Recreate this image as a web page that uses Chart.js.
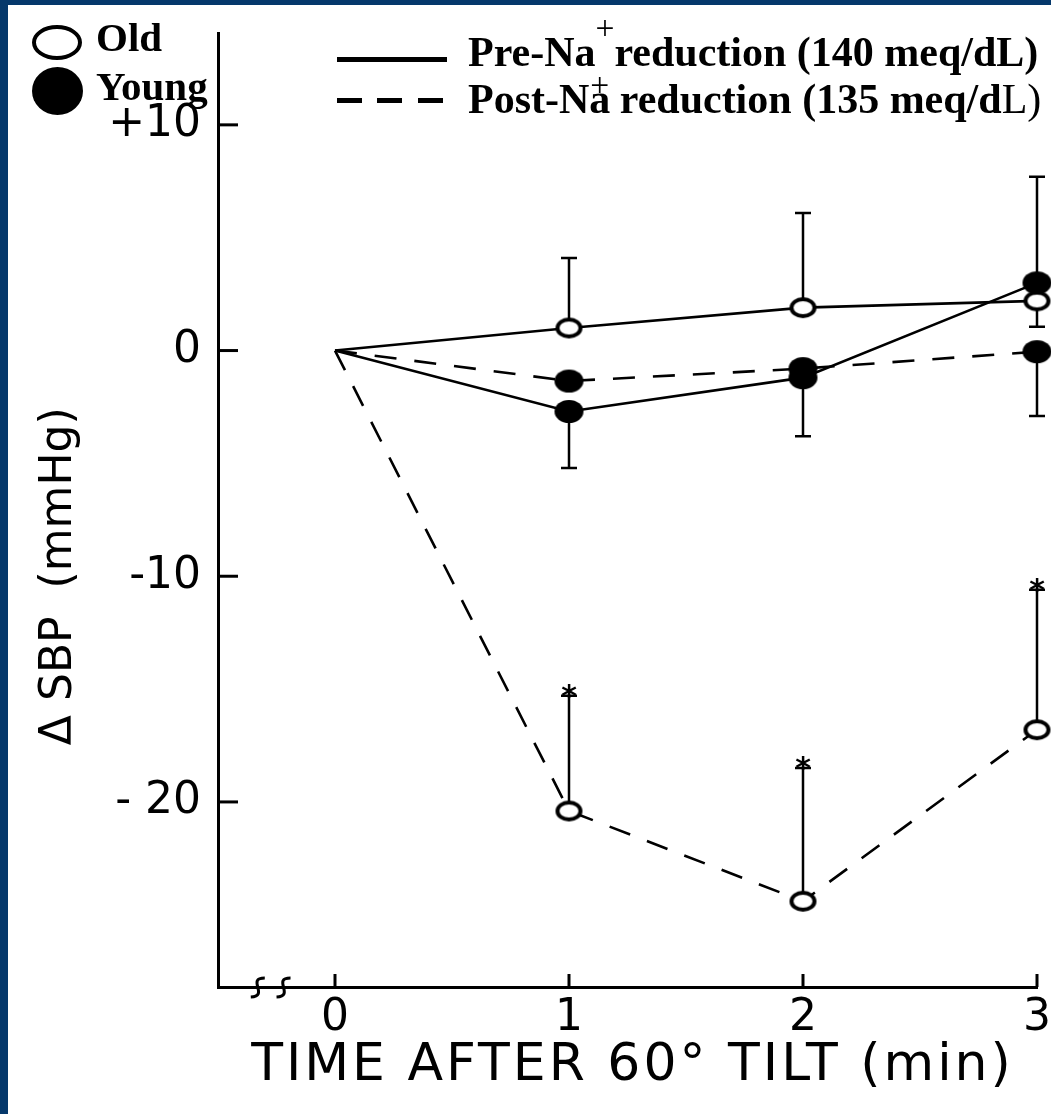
<!DOCTYPE html>
<html>
<head>
<meta charset="utf-8">
<script src="https://cdn.jsdelivr.net/npm/chart.js@4.4.0/dist/chart.umd.min.js"></script>
<style>
  html, body { margin: 0; padding: 0; background: #fff; }
  body { width: 1051px; height: 1114px; overflow: hidden; position: relative; }
  #wrap { position: absolute; left: 0; top: 0; width: 1120px; height: 1114px; }
  .frame { position: absolute; background: #05386b; }
  .lg { position: absolute; font-family: "Liberation Serif", "Times New Roman", serif; font-weight: bold;
        white-space: nowrap; line-height: 1; color: #000; }
  .sp { position: relative; font-size: 0.8em; font-weight: normal; }
  .mk { position: absolute; background: #000; }
</style>
</head>
<body>
<div id="wrap"><canvas id="sbpChart"></canvas></div>

<!-- legend -->
<div class="mk" style="left:32px;top:25px;width:50px;height:35px;background:#fff;border:4.5px solid #000;box-sizing:border-box;border-radius:50%;"></div>
<div class="mk" style="left:32px;top:67px;width:51px;height:48px;border-radius:50%;"></div>
<div class="lg" style="left:96px;top:17px;font-size:41px;">Old</div>
<div class="lg" style="left:96px;top:66px;font-size:41px;">Young</div>

<div class="mk" style="left:337px;top:57px;width:110px;height:5px;"></div>
<div class="mk" style="left:337px;top:98px;width:25px;height:5px;"></div>
<div class="mk" style="left:377px;top:98px;width:25px;height:5px;"></div>
<div class="mk" style="left:418px;top:98px;width:25px;height:5px;"></div>
<div class="lg" style="left:468px;top:31px;font-size:42px;">Pre-Na<span class="sp" style="top:-0.8em;">+</span>reduction (140 meq/dL)</div>
<div class="lg" style="left:468px;top:78px;font-size:42px;">Post-Na<span class="sp" style="top:-0.5em;margin-left:-20px;">+</span> reduction (135 meq/d<span style="font-weight:normal">L)</span></div>

<div class="frame" style="left:0;top:0;width:8px;height:1114px;"></div>
<div class="frame" style="left:0;top:0;width:1051px;height:5px;"></div>

<script>
// time after tilt (min)
const times = [0, 1, 2, 3];
// change in systolic BP (mmHg)
const oldPre = [0, 1.0, 1.9, 2.2];
const youngPre = [0, -2.7, -1.2, 3.0];
const oldPost = [0, -20.4, -24.4, -16.8];
const youngPost = [0, -1.35, -0.8, -0.05];
// end of the one-sided error bars
const oldPreErr = [null, 4.1, 6.1, 7.7];
const youngPreErr = [null, -5.2, -3.8, 1.05];
const oldPostErr = [null, -15.3, -18.5, -10.6];
const youngPostErr = [null, null, null, -2.9];
// axis ticks
const yTicks = [10, 0, -10, -20];
const yTickLabels = ['+10', '0', '-10', '- 20'];
const xTicks = [0, 1, 2, 3];
const xTickLabels = ['0', '1', '2', '3'];

function ellipseMarker(rx, ry, filled) {
    const c = document.createElement('canvas');
    c.width = Math.ceil(rx * 2 + 6);
    c.height = Math.ceil(ry * 2 + 6);
    const g = c.getContext('2d');
    g.beginPath();
    g.ellipse(c.width / 2, c.height / 2, rx, ry, 0, 0, Math.PI * 2);
    if (filled) {
        g.fillStyle = '#000';
        g.fill();
    } else {
        g.fillStyle = '#fff';
        g.fill();
        g.lineWidth = 4;
        g.strokeStyle = '#000';
        g.stroke();
    }
    return c;
}
const openMark = ellipseMarker(11.5, 8.5, false);
const filledMark = ellipseMarker(14.5, 11.5, true);

function series(vals) {
    return vals.map((v, i) => ({ x: times[i], y: v }));
}

function lineSet(label, vals, errs, marker, dashed, stars) {
    return {
        label: label,
        data: series(vals),
        errEnds: errs,
        stars: stars,
        borderColor: '#000',
        borderWidth: 2.6,
        borderDash: dashed ? [22, 18] : [],
        pointStyle: marker,
        pointRadius: [0, 6, 6, 6],
        pointHoverRadius: [0, 6, 6, 6],
        tension: 0,
        fill: false,
        clip: false
    };
}

// one-sided error bars and significance stars, drawn under the markers
const errorBars = {
    id: 'errorBars',
    beforeDatasetsDraw(chart) {
        const { ctx, scales: { x, y } } = chart;
        ctx.save();
        ctx.strokeStyle = '#000';
        ctx.fillStyle = '#000';
        ctx.lineWidth = 2.5;
        ctx.setLineDash([]);
        chart.data.datasets.forEach(ds => {
            ds.data.forEach((p, i) => {
                const e = ds.errEnds[i];
                if (e == null) return;
                const px = x.getPixelForValue(p.x);
                const p0 = y.getPixelForValue(p.y);
                const p1 = y.getPixelForValue(e);
                ctx.beginPath();
                ctx.moveTo(px, p0);
                ctx.lineTo(px, p1);
                ctx.moveTo(px - 8, p1);
                ctx.lineTo(px + 8, p1);
                ctx.stroke();
                if (ds.stars) {
                    ctx.font = 'bold 30px "DejaVu Sans"';
                    ctx.textAlign = 'center';
                    ctx.textBaseline = 'alphabetic';
                    ctx.fillText('*', px, p1 + 10);
                }
            });
        });
        ctx.restore();
    }
};

// ticks pointing into the plot, axis break and the axis titles
const axisExtras = {
    id: 'axisExtras',
    afterDraw(chart) {
        const { ctx, scales: { x, y } } = chart;
        ctx.save();
        ctx.strokeStyle = '#000';
        ctx.lineWidth = 3;
        y.ticks.forEach(t => {
            const py = y.getPixelForValue(t.value);
            ctx.beginPath();
            ctx.moveTo(y.right, py);
            ctx.lineTo(y.right + 20, py);
            ctx.stroke();
        });
        x.ticks.forEach(t => {
            const px = x.getPixelForValue(t.value);
            ctx.beginPath();
            ctx.moveTo(px, x.top);
            ctx.lineTo(px, x.top - 13);
            ctx.stroke();
        });
        // the little "ss" break on the time axis
        [-0.33, -0.22].forEach(v => {
            const cx = x.getPixelForValue(v);
            const cy = x.top;
            ctx.beginPath();
            ctx.moveTo(cx + 7, cy - 9);
            ctx.bezierCurveTo(cx - 12, cy - 9, cx + 12, cy + 9, cx - 7, cy + 10);
            ctx.stroke();
        });

        ctx.fillStyle = '#000';
        ctx.textAlign = 'center';

        ctx.save();
        ctx.font = '52px "DejaVu Sans"';
        ctx.letterSpacing = '3px';
        ctx.textBaseline = 'alphabetic';
        ctx.fillText('TIME AFTER 60\u00B0 TILT (min)', (x.left + x.right) / 2 + 5, x.bottom - 34);
        ctx.restore();

        ctx.font = '44px "DejaVu Sans"';
        ctx.textBaseline = 'middle';
        ctx.translate(60, y.getPixelForValue(-10));
        ctx.rotate(-Math.PI / 2);
        ctx.fillText('\u0394 SBP  (mmHg)', 0, 0);
        ctx.restore();
    }
};

document.addEventListener('DOMContentLoaded', function () {
    const ctx = document.getElementById('sbpChart').getContext('2d');

    new Chart(ctx, {
        type: 'line',
        data: {
            datasets: [
                lineSet('Young, pre', youngPre, youngPreErr, filledMark, false, false),
                lineSet('Old, pre', oldPre, oldPreErr, openMark, false, false),
                lineSet('Young, post', youngPost, youngPostErr, filledMark, true, false),
                lineSet('Old, post', oldPost, oldPostErr, openMark, true, true)
            ]
        },
        options: {
            responsive: true,
            maintainAspectRatio: false,
            animation: false,
            events: [],
            layout: {
                padding: { top: 33, right: 83, bottom: 0, left: 0 }
            },
            scales: {
                x: {
                    type: 'linear',
                    min: -0.5,
                    max: 3,
                    afterBuildTicks: (axis) => {
                        axis.ticks = xTicks.map(v => ({ value: v }));
                    },
                    afterFit: (axis) => {
                        axis.height = 127;
                        axis.paddingLeft = 0;
                        axis.paddingRight = 0;
                    },
                    ticks: {
                        padding: 5,
                        color: '#000',
                        font: { family: 'DejaVu Sans', size: 44 },
                        callback: (v) => xTickLabels[xTicks.indexOf(v)]
                    },
                    grid: { display: false, drawTicks: false },
                    border: { display: true, color: '#000', width: 3 }
                },
                y: {
                    type: 'linear',
                    min: -28.2,
                    max: 14.07,
                    afterBuildTicks: (axis) => {
                        axis.ticks = yTicks.map(v => ({ value: v }));
                    },
                    afterFit: (axis) => {
                        axis.width = 218;
                        axis.paddingTop = 0;
                        axis.paddingBottom = 0;
                    },
                    ticks: {
                        padding: 17,
                        color: '#000',
                        font: { family: 'DejaVu Sans', size: 44 },
                        callback: (v) => yTickLabels[yTicks.indexOf(v)]
                    },
                    grid: { display: false, drawTicks: false },
                    border: { display: true, color: '#000', width: 3 }
                }
            },
            plugins: {
                legend: { display: false },
                tooltip: { enabled: false }
            }
        },
        plugins: [errorBars, axisExtras]
    });
});
</script>
</body>
</html>
